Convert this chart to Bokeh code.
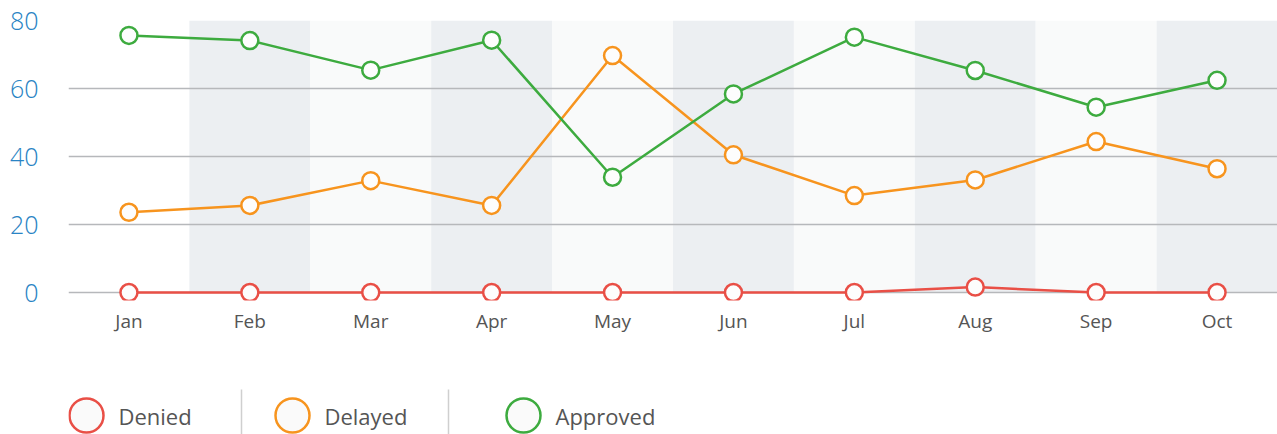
from bokeh.plotting import figure
from bokeh.layouts import column
from bokeh.models import FixedTicker, Range1d, FactorRange
from bokeh.core.properties import value
from bokeh.embed import file_html
from bokeh.resources import INLINE

# ---- data ----
months = ["Jan", "Feb", "Mar", "Apr", "May", "Jun", "Jul", "Aug", "Sep", "Oct"]
denied = [0, 0, 0, 0, 0, 0, 0, 1.6, 0, 0]
delayed = [23.6, 25.6, 32.9, 25.6, 69.7, 40.5, 28.5, 33.1, 44.4, 36.4]
approved = [75.6, 74.1, 65.4, 74.2, 33.9, 58.4, 75.1, 65.3, 54.5, 62.4]
y_ticks = [0, 20, 40, 60, 80]
series_names = ["Denied", "Delayed", "Approved"]

# ---- styles ----
RED = "#e94f46"
ORANGE = "#f7941e"
GREEN = "#3dab3f"
colors = [RED, ORANGE, GREEN]
FONT = "Open Sans"
FONT_LIGHT = "Open Sans Light, Open Sans, sans-serif"
W = 1277
LEFT = 68
H_MAIN = 340
H_LEG = 94

p = figure(width=W, height=H_MAIN,
           x_range=FactorRange(*months), y_range=Range1d(-2.35, y_ticks[-1]),
           output_backend="svg", toolbar_location=None,
           min_border_left=LEFT, min_border_right=0, min_border_top=20, min_border_bottom=40)
p.outline_line_color = None
p.background_fill_color = "white"
p.border_fill_color = "white"
p.grid.visible = False

band_colors = ["white" if i == 0 else ("#eceff2" if i % 2 == 1 else "#f9fafa") for i in range(len(months))]
p.vbar(x=months, top=y_ticks[-1], bottom=0, width=1.0, fill_color=band_colors, line_color=None)
p.hspan(y=y_ticks[:-1], line_color="#b6b8bb", line_width=1.5)

for vals, c in zip([denied, delayed, approved], colors):
    p.line(months, vals, line_color=c, line_width=2.5)
    p.scatter(months, vals, size=17, line_color=c, line_width=2.5, fill_color="#fdfdfd")

p.yaxis.ticker = FixedTicker(ticks=y_ticks)
p.yaxis.axis_line_color = None
p.yaxis.major_tick_line_color = None
p.yaxis.minor_tick_line_color = None
p.yaxis.major_label_standoff = 24
p.yaxis.major_label_text_color = "#2a84c4"
p.yaxis.major_label_text_font = FONT_LIGHT
p.yaxis.major_label_text_font_size = "25px"

p.xaxis.axis_line_color = None
p.xaxis.major_tick_line_color = None
p.xaxis.minor_tick_line_color = None
p.xaxis.major_label_standoff = 1
p.xaxis.major_label_text_color = "#555555"
p.xaxis.major_label_text_font = FONT
p.xaxis.major_label_text_font_size = "19px"

# ---- legend (separate strip below; column() aligns frames, so same left border) ----
lg = figure(width=W, height=H_LEG, x_range=Range1d(LEFT, W), y_range=Range1d(H_MAIN + H_LEG, H_MAIN),
            output_backend="svg", toolbar_location=None,
            x_axis_location=None, y_axis_location=None,
            min_border_left=LEFT, min_border_right=0, min_border_top=0, min_border_bottom=0)
lg.outline_line_color = None
lg.grid.visible = False
lg.border_fill_color = "white"

leg_cx = [86, 292, 523]
leg_cy = 415
sep_x = [241, 448]
lg.segment(x0=sep_x, y0=389, x1=sep_x, y1=440, line_color="#cfcfcf", line_width=1.5)
lg.scatter(x=leg_cx, y=[leg_cy] * 3, size=34, line_color=colors, line_width=2.5, fill_color="#fafafa")
lg.text(x=[c + 32 for c in leg_cx], y=[leg_cy] * 3, text=series_names,
        text_font=value(FONT), text_font_size="22px", text_color="#555555",
        text_baseline="middle", text_align="left")

layout = column(p, lg, spacing=0)
open("out.html", "w").write(file_html(layout, INLINE))
